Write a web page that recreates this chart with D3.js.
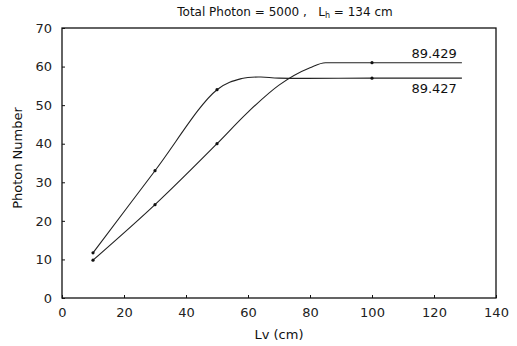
<!DOCTYPE html>
<html>
<head>
<meta charset="utf-8">
<script src="https://cdn.jsdelivr.net/npm/d3@7"></script>
<style>
  body { margin: 0; background: #fff; }
  svg text { font-family: "DejaVu Sans", "Liberation Sans", sans-serif; fill: #111; }
</style>
</head>
<body>
<svg width="517" height="346"></svg>
<script>
'use strict';

// data
const xTicks = [0, 20, 40, 60, 80, 100, 120, 140];
const yTicks = [0, 10, 20, 30, 40, 50, 60, 70];

const lvA = [10, 30, 50, 58, 64, 70, 100, 129];
const photonA = [11.7, 33, 54, 56.9, 57.3, 57.0, 57.0, 57.0];
const markA = [10, 30, 50, 100];
const labelA = '89.427';

const lvB = [10, 30, 50, 60, 70, 80, 85, 100, 129];
const photonB = [9.8, 24.2, 40, 48.2, 55.2, 59.7, 61, 61, 61];
const markB = [10, 30, 50, 100];
const labelB = '89.429';

(function (d3) {
  const svg = d3.select('svg');
  const margin = { top: 28, right: 21, bottom: 48, left: 62 };
  const width = +svg.attr('width');
  const height = +svg.attr('height');
  const innerWidth = width - margin.left - margin.right;
  const innerHeight = height - margin.top - margin.bottom;

  const xScale = d3.scaleLinear().domain([0, 140]).range([0, innerWidth]);
  const yScale = d3.scaleLinear().domain([0, 70]).range([innerHeight, 0]);

  const g = svg.append('g')
    .attr('transform', `translate(${margin.left},${margin.top})`);

  // frame
  g.append('rect')
    .attr('width', innerWidth)
    .attr('height', innerHeight)
    .attr('fill', 'none')
    .attr('stroke', '#111')
    .attr('stroke-width', 1.3);

  const xAxisG = g.append('g')
    .attr('transform', `translate(0,${innerHeight})`)
    .call(d3.axisBottom(xScale).tickValues(xTicks).tickSize(-3).tickPadding(10));
  xAxisG.select('.domain').remove();
  xAxisG.selectAll('text').attr('font-size', 13).style('fill', '#222');

  const yAxisG = g.append('g')
    .call(d3.axisLeft(yScale).tickValues(yTicks).tickSize(-3).tickPadding(10));
  yAxisG.select('.domain').remove();
  yAxisG.selectAll('text').attr('font-size', 13).style('fill', '#222');
  g.selectAll('.tick line').attr('stroke', '#111');

  const series = [
    { xs: lvA, ys: photonA, marks: markA, curve: d3.curveCatmullRom.alpha(0.5) },
    { xs: lvB, ys: photonB, marks: markB, curve: d3.curveMonotoneX }
  ];

  series.forEach(s => {
    const pts = s.xs.map((x, i) => [x, s.ys[i]]);
    const line = d3.line()
      .x(d => xScale(d[0]))
      .y(d => yScale(d[1]))
      .curve(s.curve);
    g.append('path')
      .datum(pts)
      .attr('fill', 'none')
      .attr('stroke', '#222')
      .attr('stroke-width', 1.1)
      .attr('d', line);
    g.selectAll(null)
      .data(pts.filter(p => s.marks.includes(p[0])))
      .enter().append('circle')
      .attr('cx', d => xScale(d[0]))
      .attr('cy', d => yScale(d[1]))
      .attr('r', 1.6)
      .attr('fill', '#111');
  });

  // end labels
  g.append('text')
    .attr('x', xScale(lvB[lvB.length - 1]) - 5)
    .attr('y', yScale(photonB[photonB.length - 1]) - 5)
    .attr('text-anchor', 'end')
    .attr('font-size', 13)
    .text(labelB);

  g.append('text')
    .attr('x', xScale(lvA[lvA.length - 1]) - 5)
    .attr('y', yScale(photonA[photonA.length - 1]) + 15)
    .attr('text-anchor', 'end')
    .attr('font-size', 13)
    .text(labelA);

  // title
  const title = svg.append('text')
    .attr('x', margin.left + innerWidth / 2 + 6)
    .attr('y', 16)
    .attr('text-anchor', 'middle')
    .attr('font-size', 12)
    .style('white-space', 'pre');
  title.append('tspan').text('Total Photon = 5000 ,   L');
  title.append('tspan').attr('font-size', 8).attr('dy', 2).text('h');
  title.append('tspan').attr('dy', -2).text(' = 134 cm');

  // axis labels
  svg.append('text')
    .attr('x', margin.left + innerWidth / 2)
    .attr('y', 339)
    .attr('text-anchor', 'middle')
    .attr('font-size', 13)
    .text('Lv (cm)');

  svg.append('text')
    .attr('transform', `translate(22,${margin.top + innerHeight / 2 - 5}) rotate(-90)`)
    .attr('text-anchor', 'middle')
    .attr('font-size', 13)
    .text('Photon Number');
}(d3));
</script>
</body>
</html>
